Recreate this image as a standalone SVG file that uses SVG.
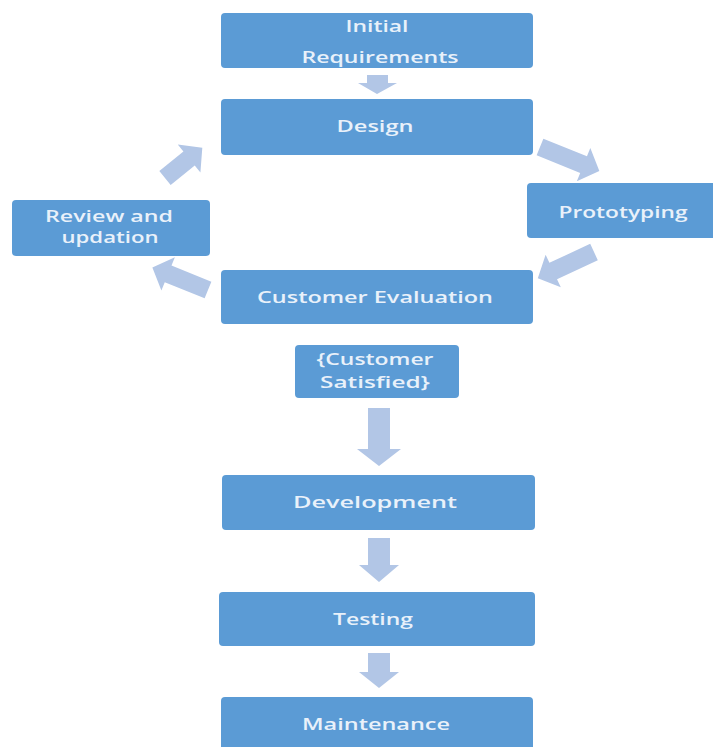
<svg xmlns="http://www.w3.org/2000/svg" width="713" height="747" viewBox="0 0 713 747">
<style>
.box{fill:#5b9bd5;}
.lbl{font-family:"Open Sans","Liberation Sans",sans-serif;font-size:17px;font-weight:600;fill:#e9f1fa;text-anchor:middle;}
.arr{fill:#b2c6e6;}
</style>
<rect width="713" height="747" fill="#ffffff"/>
<g id="connectors">
<polygon class="arr" points="367,75 388,75 388,83 397,83 377,94 358,83 367,83"/>
<path class="arr" transform="translate(540,147) rotate(22)" d="M0,-9 H47 V-18 L64,0 L47,18 V9 H0 Z"/>
<path class="arr" transform="translate(594,252) rotate(155)" d="M0,-9 H45 V-18 L62,0 L45,18 V9 H0 Z"/>
<path class="arr" transform="translate(208,290) rotate(202)" d="M0,-9 H43 V-18 L60,0 L43,18 V9 H0 Z"/>
<path class="arr" transform="translate(165,178) rotate(-39)" d="M0,-9 H31 V-18 L48,0 L31,18 V9 H0 Z"/>
<polygon class="arr" points="368,408 390,408 390,449 401,449 379,466 357,449 368,449"/>
<polygon class="arr" points="368,538 390,538 390,565 399,565 379,582 359,565 368,565"/>
<polygon class="arr" points="368,653 390,653 390,672 399,672 379,688 359,672 368,672"/>
</g>
<g id="initial">
<rect class="box" x="221" y="13" width="312" height="55" rx="4"/>
<text class="lbl" x="377" y="32" textLength="63" lengthAdjust="spacingAndGlyphs">Initial</text>
<text class="lbl" x="380" y="63" textLength="157" lengthAdjust="spacingAndGlyphs">Requirements</text>
</g>
<g id="design">
<rect class="box" x="221" y="99" width="312" height="56" rx="4"/>
<text class="lbl" x="375" y="132" textLength="77" lengthAdjust="spacingAndGlyphs">Design</text>
</g>
<g id="prototyping">
<rect class="box" x="527" y="183" width="200" height="55" rx="4"/>
<text class="lbl" x="623" y="218" textLength="129" lengthAdjust="spacingAndGlyphs">Prototyping</text>
</g>
<g id="review">
<rect class="box" x="12" y="200" width="198" height="56" rx="4"/>
<text class="lbl" x="109" y="222" textLength="128" lengthAdjust="spacingAndGlyphs">Review and</text>
<text class="lbl" x="110" y="243" textLength="97" lengthAdjust="spacingAndGlyphs">updation</text>
</g>
<g id="evaluation">
<rect class="box" x="221" y="270" width="312" height="54" rx="4"/>
<text class="lbl" x="375" y="303" textLength="236" lengthAdjust="spacingAndGlyphs">Customer Evaluation</text>
</g>
<g id="satisfied">
<rect class="box" x="295" y="345" width="164" height="53" rx="4"/>
<text class="lbl" x="375" y="365" textLength="117" lengthAdjust="spacingAndGlyphs">{Customer</text>
<text class="lbl" x="375" y="388" textLength="110" lengthAdjust="spacingAndGlyphs">Satisfied}</text>
</g>
<g id="development">
<rect class="box" x="222" y="475" width="313" height="55" rx="4"/>
<text class="lbl" x="375" y="508" textLength="164" lengthAdjust="spacingAndGlyphs">Development</text>
</g>
<g id="testing">
<rect class="box" x="219" y="592" width="316" height="54" rx="4"/>
<text class="lbl" x="373" y="625" textLength="80" lengthAdjust="spacingAndGlyphs">Testing</text>
</g>
<g id="maintenance">
<rect class="box" x="221" y="697" width="312" height="70" rx="4"/>
<text class="lbl" x="376" y="730" textLength="148" lengthAdjust="spacingAndGlyphs">Maintenance</text>
</g>
</svg>
